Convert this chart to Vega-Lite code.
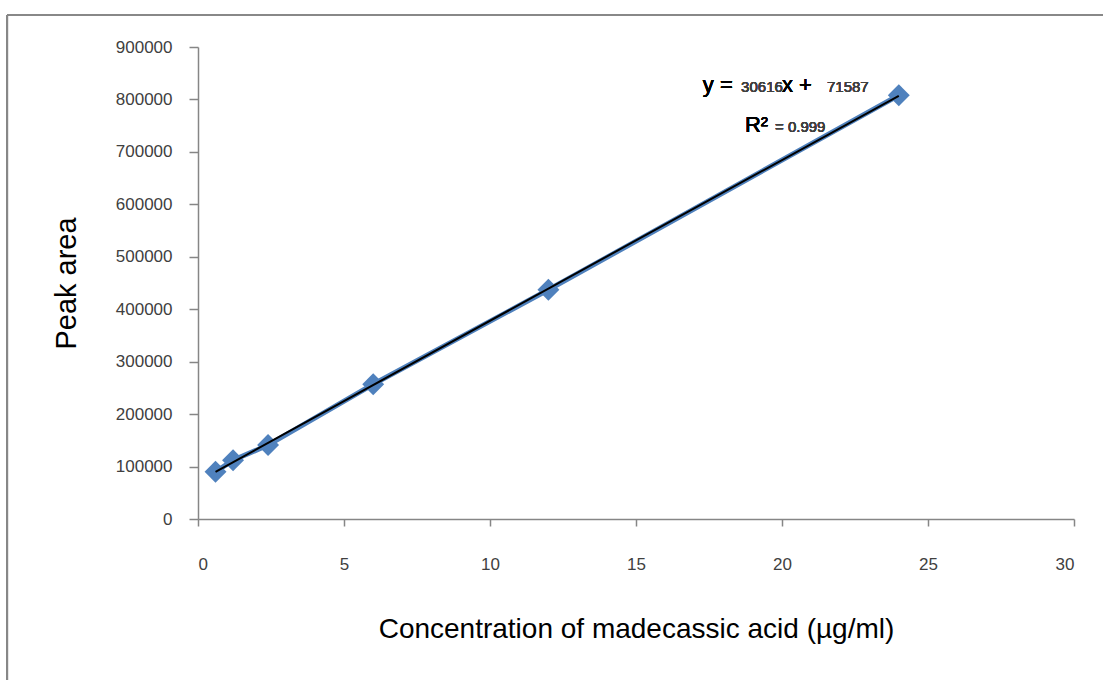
{
  "$schema": "https://vega.github.io/schema/vega-lite/v6.json",
  "autosize": {"type": "none"},
  "width": 876,
  "height": 472,
  "padding": {"left": 198, "top": 47, "right": 29, "bottom": 161},
  "background": "white",
  "config": {
    "view": {"stroke": null},
    "font": "Liberation Sans",
    "axis": {"grid": false, "domainColor": "#868686", "domainWidth": 1.5, "tickColor": "#868686", "tickWidth": 1.5, "labelColor": "#404040", "labelFont": "Liberation Sans", "labelFontWeight": "normal", "titleFont": "Liberation Sans", "titleColor": "#000000", "titleFontWeight": "normal"}
  },
  "data": {"values": [
    {"conc": 0.6, "peak": 90000},
    {"conc": 1.2, "peak": 112000},
    {"conc": 2.4, "peak": 141000},
    {"conc": 6, "peak": 257000},
    {"conc": 12, "peak": 437000},
    {"conc": 24, "peak": 808000}
  ]},
  "layer": [
    {
      "mark": {"type": "line", "color": "#4F81BD", "strokeWidth": 5},
      "encoding": {
        "x": {"field": "conc", "type": "quantitative", "scale": {"domain": [0, 30]},
          "axis": {"values": [0, 5, 10, 15, 20, 25, 30], "tickSize": 7, "labelPadding": 30, "labelFontSize": 17, "title": "Concentration of madecassic acid (µg/ml)", "titleFontSize": 28, "titlePadding": 43}},
        "y": {"field": "peak", "type": "quantitative", "scale": {"domain": [0, 900000]},
          "axis": {"values": [0, 100000, 200000, 300000, 400000, 500000, 600000, 700000, 800000, 900000], "format": "d", "tickSize": 9, "labelPadding": 17, "labelFontSize": 17, "title": "Peak area", "titleFontSize": 29, "titlePadding": 34}}
      }
    },
    {
      "mark": {"type": "point", "shape": "diamond", "filled": true, "color": "#4F81BD", "size": 480, "opacity": 1},
      "encoding": {
        "x": {"field": "conc", "type": "quantitative"},
        "y": {"field": "peak", "type": "quantitative"}
      }
    },
    {
      "transform": [{"regression": "peak", "on": "conc"}],
      "mark": {"type": "line", "color": "#000000", "strokeWidth": 2},
      "encoding": {
        "x": {"field": "conc", "type": "quantitative"},
        "y": {"field": "peak", "type": "quantitative"}
      }
    },
    {
      "mark": {"type": "text", "text": "y =", "fontSize": 22, "align": "left", "baseline": "alphabetic", "color": "#000000", "fontWeight": "normal"},
      "encoding": {"x": {"datum": 17.29}, "y": {"datum": 814200}}
    },
    {
      "mark": {"type": "text", "text": "30616", "fontSize": 15, "align": "left", "baseline": "alphabetic", "color": "#404040", "fontWeight": "normal"},
      "encoding": {"x": {"datum": 18.6}, "y": {"datum": 814200}}
    },
    {
      "mark": {"type": "text", "text": "x +", "fontSize": 22, "align": "left", "baseline": "alphabetic", "color": "#000000", "fontWeight": "normal"},
      "encoding": {"x": {"datum": 20.0}, "y": {"datum": 814200}}
    },
    {
      "mark": {"type": "text", "text": "71587", "fontSize": 15, "align": "left", "baseline": "alphabetic", "color": "#404040", "fontWeight": "normal"},
      "encoding": {"x": {"datum": 21.54}, "y": {"datum": 814200}}
    },
    {
      "mark": {"type": "text", "text": "R²", "fontSize": 22, "align": "left", "baseline": "alphabetic", "color": "#000000", "fontWeight": "normal"},
      "encoding": {"x": {"datum": 18.73}, "y": {"datum": 737900}}
    },
    {
      "mark": {"type": "text", "text": "= 0.999", "fontSize": 15, "align": "left", "baseline": "alphabetic", "color": "#404040", "fontWeight": "normal"},
      "encoding": {"x": {"datum": 19.76}, "y": {"datum": 737900}}
    },
    {
      "mark": {"type": "rule", "color": "#888888", "strokeWidth": 2},
      "encoding": {"x": {"datum": -6.54}, "x2": {"datum": 31.0}, "y": {"datum": 961000}}
    },
    {
      "mark": {"type": "rule", "color": "#888888", "strokeWidth": 2},
      "encoding": {"x": {"datum": -6.54}, "y": {"datum": 961000}, "y2": {"datum": -307000}}
    }
  ]
}
